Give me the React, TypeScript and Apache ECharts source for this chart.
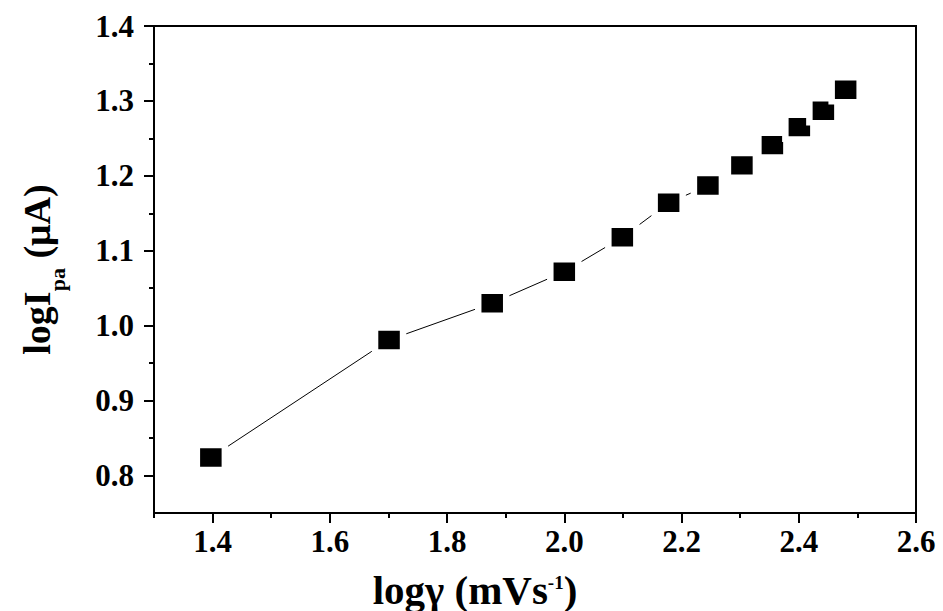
import React, { useEffect, useRef } from "react";
import * as echarts from "echarts";

// log of scan rate (x) and log of anodic peak current (y)
const logScanRate = [1.397, 1.701, 1.877, 2.0, 2.099, 2.178, 2.245, 2.303, 2.355, 2.401, 2.442, 2.48];
const logIpa = [0.824, 0.981, 1.03, 1.072, 1.118, 1.164, 1.187, 1.214, 1.241, 1.265, 1.287, 1.315];

const xMajorTicks = [1.4, 1.6, 1.8, 2.0, 2.2, 2.4, 2.6];
const xMinorTicks = [1.3, 1.5, 1.7, 1.9, 2.1, 2.3, 2.5];
const yMajorTicks = [0.8, 0.9, 1.0, 1.1, 1.2, 1.3, 1.4];
const yMinorTicks = [0.85, 0.95, 1.05, 1.15, 1.25, 1.35];

const FONT = "'Liberation Serif', 'Times New Roman', serif";

export default function App() {
  const ref = useRef<HTMLDivElement>(null);

  useEffect(() => {
    if (!ref.current) return;
    const chart = echarts.init(ref.current, undefined, { renderer: "svg" });
    const axisLine = { show: true, lineStyle: { color: "#000", width: 2 } };
    const labelStyle = {
      color: "#000",
      fontFamily: FONT,
      fontWeight: "bold" as const,
      fontSize: 31,
    };
    const bold = { fontFamily: FONT, fontWeight: "bold" as const, color: "#000" };
    chart.setOption({
      animation: false,
      backgroundColor: "#fff",
      grid: {
        left: 154,
        right: 27,
        top: 26,
        bottom: 98,
        containLabel: false,
        outerBoundsMode: "none",
        show: true,
        borderColor: "#000",
        borderWidth: 2,
      },
      xAxis: [
        {
          type: "value",
          position: "bottom",
          min: 1.3,
          max: 2.6,
          interval: 0.1,
          axisLine,
          splitLine: { show: false },
          axisTick: {
            show: true,
            length: 10,
            customValues: xMajorTicks,
            lineStyle: { color: "#000", width: 2 },
          },
          axisLabel: {
            ...labelStyle,
            margin: 13,
            customValues: xMajorTicks,
            formatter: (v: number) => v.toFixed(1),
          },
          name: "{m|logγ (mVs}{sup|-1}{m|)}",
          nameLocation: "middle",
          nameGap: 56,
          nameMoveOverlap: false,
          nameTextStyle: {
            padding: [0, 120, 0, 0],
            rich: {
              m: { ...bold, fontSize: 41, lineHeight: 41 },
              sup: { ...bold, fontSize: 19, lineHeight: 19, padding: [0, 0, 14, 0] },
            },
          },
        },
        {
          type: "value",
          position: "bottom",
          min: 1.3,
          max: 2.6,
          interval: 0.1,
          axisLine: { show: false },
          splitLine: { show: false },
          axisLabel: { show: false },
          axisTick: {
            show: true,
            length: 5,
            customValues: xMinorTicks,
            lineStyle: { color: "#000", width: 2 },
          },
        },
      ],
      yAxis: [
        {
          type: "value",
          position: "left",
          min: 0.75,
          max: 1.4,
          interval: 0.05,
          axisLine,
          splitLine: { show: false },
          axisTick: {
            show: true,
            length: 10,
            customValues: yMajorTicks,
            lineStyle: { color: "#000", width: 2 },
          },
          axisLabel: {
            ...labelStyle,
            margin: 20,
            customValues: yMajorTicks,
            formatter: (v: number) => v.toFixed(1),
          },
          name: "{m|logI}{sub|pa}{m| (μA)}",
          nameLocation: "middle",
          nameRotate: 90,
          nameGap: 92,
          nameMoveOverlap: false,
          nameTextStyle: {
            rich: {
              m: { ...bold, fontSize: 38, lineHeight: 38, padding: [0, 0, 13, 0] },
              sub: { ...bold, fontSize: 22, lineHeight: 22, padding: [29, 0, 0, 0] },
            },
          },
        },
        {
          type: "value",
          position: "left",
          min: 0.75,
          max: 1.4,
          interval: 0.05,
          axisLine: { show: false },
          splitLine: { show: false },
          axisLabel: { show: false },
          axisTick: {
            show: true,
            length: 5,
            customValues: yMinorTicks,
            lineStyle: { color: "#000", width: 2 },
          },
        },
      ],
      series: [
        {
          type: "line",
          xAxisIndex: 0,
          yAxisIndex: 0,
          data: logScanRate.map((x, i) => [x, logIpa[i]]),
          symbol: "rect",
          symbolSize: [28, 24],
          itemStyle: { color: "#000", borderColor: "#fff", borderWidth: 6 },
          lineStyle: { color: "#000", width: 1 },
          z: 3,
        },
      ],
    });
    return () => chart.dispose();
  }, []);

  return (
    <div
      ref={ref}
      style={{ position: "absolute", left: 0, top: 0, width: 943, height: 611 }}
    />
  );
}
